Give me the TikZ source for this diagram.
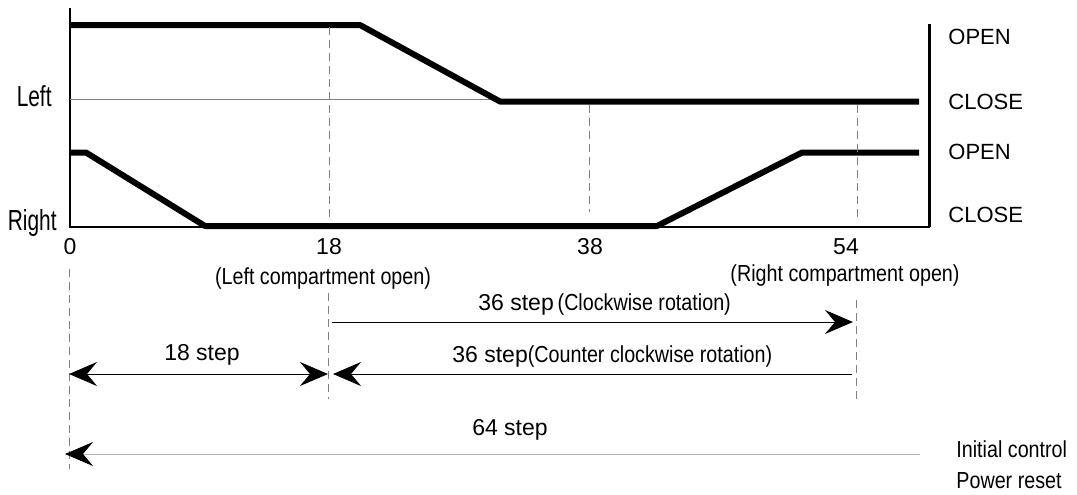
\documentclass[tikz,border=0pt]{standalone}
\usepackage{fontspec}
\setmainfont{Liberation Sans}
\newfontfamily\narrowfont{Liberation Sans}[FakeStretch=0.85]
\newfontfamily\condfont{Liberation Sans}[FakeStretch=0.72]
\usetikzlibrary{arrows.meta, positioning}

\begin{document}
\begin{tikzpicture}[
    x=0.5pt, y=-0.5pt,
    >={Stealth[length=14pt, width=12pt, inset=5pt, color=black]},
    every node/.style={font=\fontsize{11.5}{13}\selectfont, inner sep=0pt},
    state/.style={anchor=west, font=\fontsize{11}{13}\selectfont},
    narrow/.style={font=\narrowfont\fontsize{11.6}{13}\selectfont},
    door/.style={anchor=east, font=\condfont\fontsize{14.5}{16}\selectfont},
    signal/.style={line width=3pt, line join=round},
    guide/.style={gray, dash pattern=on 4pt off 2.5pt, line width=0.5pt},
    dimline/.style={line width=0.5pt}
]
\useasboundingbox (0,0) rectangle (1077,494);

% Axes
\draw[line width=1pt] (70,8) -- (70,226.5) -- (929.5,226.5);
\draw[line width=1.3pt] (929.5,226.5) -- (929.5,24);
\draw[gray, line width=0.6pt] (70,99.5) -- (500,99.5);

% Door signals
\draw[signal] (70,25) -- (360,25) -- (500,101.5) -- (919,101.5);
\draw[signal] (70,152.5) -- (86,152.5) -- (205,226) -- (657,226) -- (802,152.5) -- (919,152.5);

% Step marks
\coordinate (s0) at (69,374);
\coordinate (s18) at (328,374);
\coordinate (s18b) at (333,374);
\coordinate (s54) at (852,374);
\coordinate (cwa) at (332,322);
\coordinate (cwb) at (853,322);
\coordinate (ra) at (920,454);
\coordinate (rb) at (65,454);

% Guide lines
\draw[guide] (329,27) -- (329,220);
\draw[guide] (589,105) -- (589,212);
\draw[guide] (857,105) -- (857,220);
\draw[guide] (69,269) -- (69,469);
\draw[guide] (328,293) -- (328,399);
\draw[guide] (856,300) -- (856,401);

% Labels
\node[door] (left) at (52,96) {Left};
\node[door] (right) at (57,223) {Right};
\node[state] (open1) at (948,36.5) {OPEN};
\node[state] (close1) at (948,101.5) {CLOSE};
\node[state] (open2) at (948,152) {OPEN};
\node[state] (close2) at (948,215) {CLOSE};

\node (t0) at (70,247) {0};
\node (t18) at (329,247) {18};
\node (t38) at (590,247) {38};
\node (t54) at (846,247) {54};
\node[narrow] (lopen) at (323,278) {(Left compartment open)};
\node[narrow] (ropen) at (845,275) {(Right compartment open)};

% Step arrows
\draw[dimline, ->] (cwa) -- (cwb);
\node[anchor=west] (cw) at (478,304) {36 step\,{\narrowfont\fontsize{11.6}{13}\selectfont(Clockwise rotation)}};
\draw[dimline, <->] (s0) -- (s18);
\node (st18) at (202,355) {18 step};
\draw[dimline, ->] (s54) -- (s18b);
\node[anchor=west] (ccw) at (452,356) {36 step{\narrowfont\fontsize{11.6}{13}\selectfont(Counter clockwise rotation)}};
\draw[dimline, gray!60, ->] (ra) -- (rb);
\node (st64) at (510,430) {64 step};
\node[narrow, anchor=west] (init) at (956,449) {Initial control};
\node[narrow, anchor=west] (reset) at (956,481) {Power reset};

\end{tikzpicture}
\end{document}
